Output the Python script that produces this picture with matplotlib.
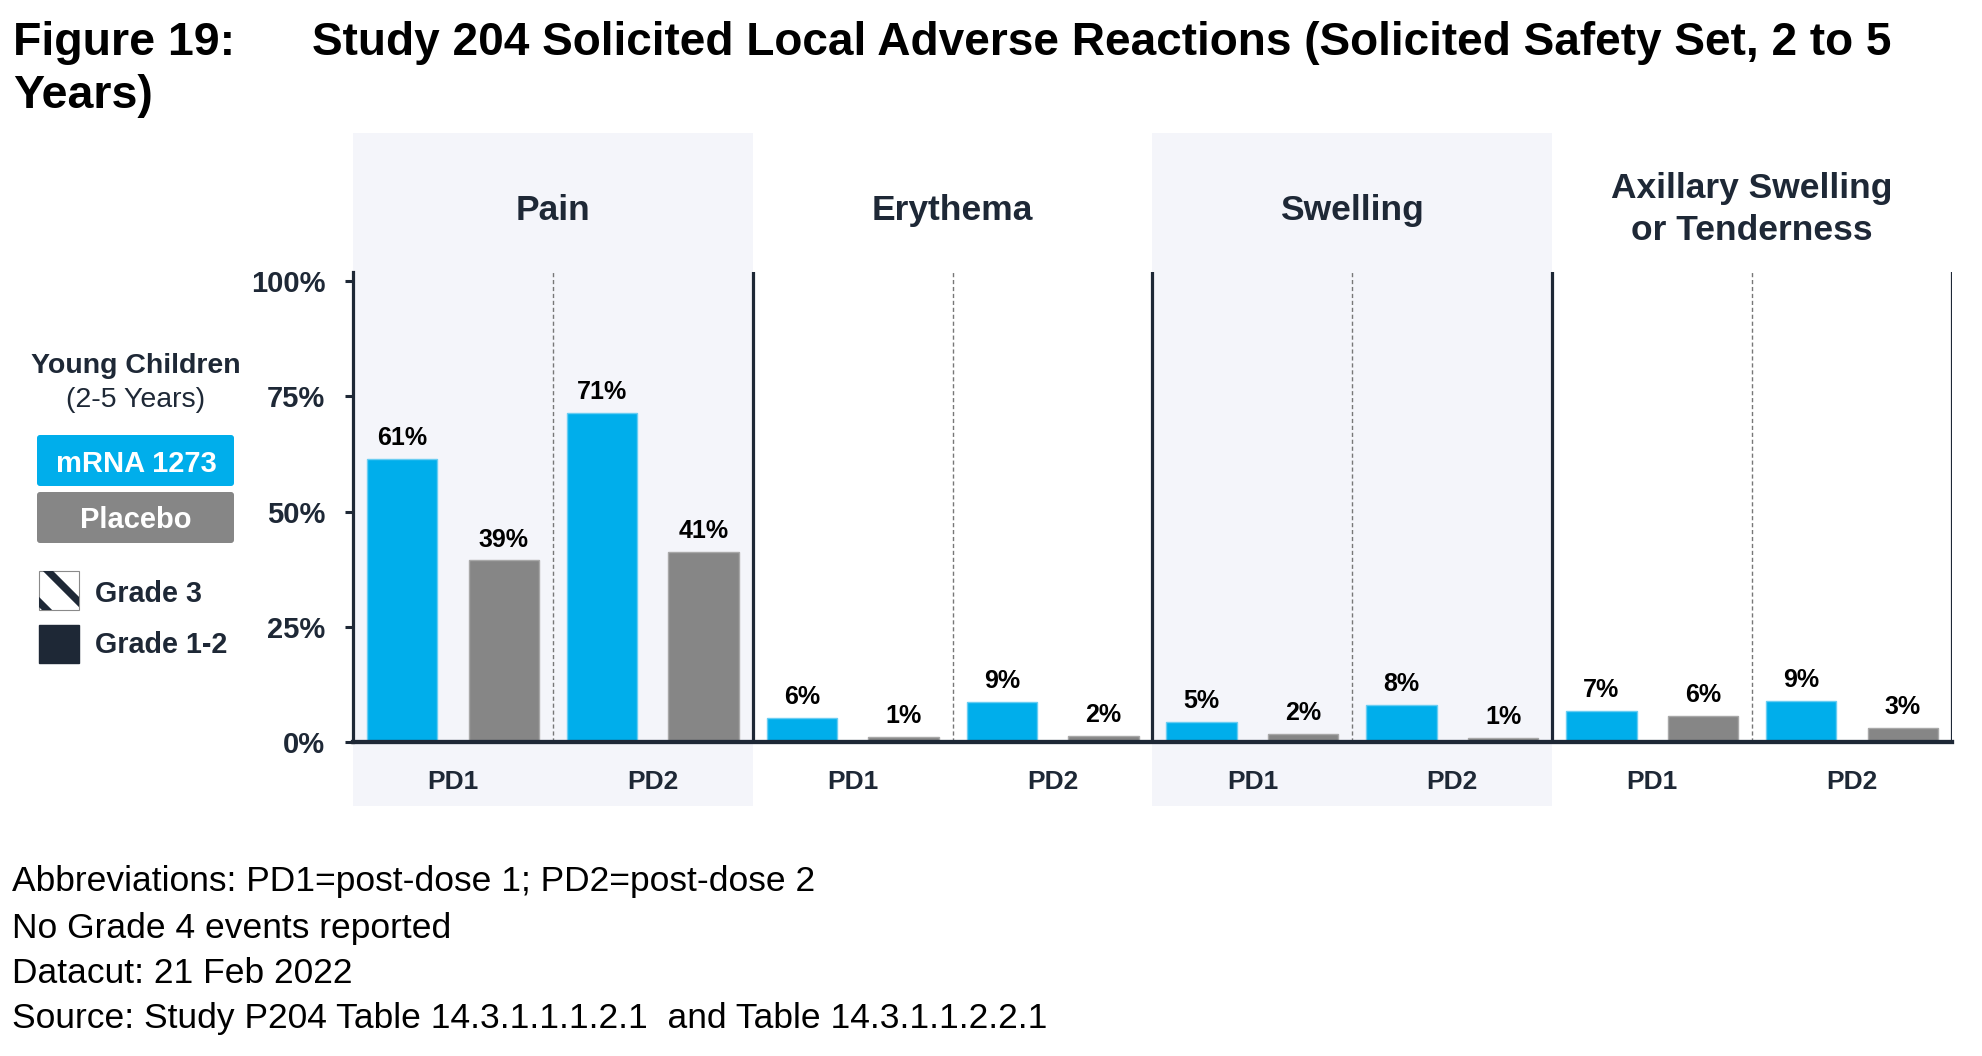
import numpy as np
import matplotlib
matplotlib.use("Agg")
import matplotlib.pyplot as plt
from matplotlib.transforms import Affine2D, blended_transform_factory
from matplotlib.patches import Rectangle, FancyBboxPatch
from matplotlib.lines import Line2D

plt.rcParams['font.family'] = ['Liberation Sans', 'DejaVu Sans']

# ---------------- data ----------------
categories = ["Pain", "Erythema", "Swelling", "Axillary Swelling\nor Tenderness"]
doses = ["PD1", "PD2"]
# bar heights (percent), order: per category PD1, PD2
mrna_pct = [61.5, 71.5, 5.3, 8.6, 4.4, 8.0, 6.7, 8.9]
placebo_pct = [39.4, 41.2, 1.1, 1.3, 1.7, 0.9, 5.6, 3.0]
# printed (rounded) labels
mrna_labels = [61, 71, 6, 9, 5, 8, 7, 9]
placebo_labels = [39, 41, 1, 2, 2, 1, 6, 3]
yticks = [0, 25, 50, 75, 100]
ytick_labels = ["0%", "25%", "50%", "75%", "100%"]
series_names = ["mRNA 1273", "Placebo"]
grade_names = ["Grade 3", "Grade 1-2"]
title_prefix = "Figure 19:"
title_line1 = "Study 204 Solicited Local Adverse Reactions (Solicited Safety Set, 2 to 5"
title_line2 = "Years)"
legend_title = ["Young Children", "(2-5 Years)"]
footnotes = [
    "Abbreviations: PD1=post-dose 1; PD2=post-dose 2",
    "No Grade 4 events reported",
    "Datacut: 21 Feb 2022",
    "Source: Study P204 Table 14.3.1.1.1.2.1  and Table 14.3.1.1.2.2.1",
]

# ---------------- style ----------------
BLUE = '#00AEEB'
BLUE_EDGE = '#6ACDF2'
GRAY = '#868686'
GRAY_EDGE = '#A8A8A8'
NAVY = '#1E2836'
PANEL_BG = '#F4F5FA'

W, H = 1983, 1056
fig = plt.figure(figsize=(W / 100, H / 100), dpi=100)
T = Affine2D().scale(1 / W, -1 / H).translate(0, 1) + fig.transFigure

ax = fig.add_axes([353 / W, 1 - 742 / H, (1952 - 353) / W, (742 - 272) / H])
ax.patch.set_alpha(0)
n_groups = len(mrna_pct)
ax.set_xlim(0, n_groups)
ax.set_ylim(0, 102)

centers = np.arange(n_groups) + 0.5
off, bw = 0.254, 0.352
ax.bar(centers - off, mrna_pct, width=bw, color=BLUE, edgecolor=BLUE_EDGE,
       linewidth=1.0, zorder=3)
ax.bar(centers + off, placebo_pct, width=bw, color=GRAY, edgecolor=GRAY_EDGE,
       linewidth=1.0, zorder=3)

for x, h, lab in zip(centers - off, mrna_pct, mrna_labels):
    ax.annotate(f"{lab}%", (x, h), xytext=(0, 10), textcoords='offset points',
                ha='center', va='baseline', fontsize=18, fontweight='bold',
                color='black')
for x, h, lab in zip(centers + off, placebo_pct, placebo_labels):
    ax.annotate(f"{lab}%", (x, h), xytext=(0, 10), textcoords='offset points',
                ha='center', va='baseline', fontsize=18, fontweight='bold',
                color='black')

# spines / ticks
for s in ['top', 'right']:
    ax.spines[s].set_visible(False)
ax.spines['left'].set_linewidth(2.3)
ax.spines['left'].set_color(NAVY)
ax.spines['bottom'].set_linewidth(3.1)
ax.spines['bottom'].set_color(NAVY)
ax.spines['bottom'].set_zorder(5)
ax.set_yticks(yticks)
ax.set_yticklabels(ytick_labels, fontsize=21, fontweight='bold', color=NAVY)
ax.tick_params(axis='y', length=6, width=2.2, color=NAVY, pad=14)
ax.set_xticks([])

n_cat = len(categories)
per_cat = len(doses)
# panel dividers and dose separators
for i in range(1, n_cat + 1):
    ax.axvline(i * per_cat, color=NAVY, lw=2.3, zorder=4)
for i in range(n_cat):
    ax.axvline(i * per_cat + 1, color='#777777', lw=1.0, ls=(0, (3, 2)), zorder=2)

bt = blended_transform_factory(ax.transData, T)
# shaded panels
for i in range(0, n_cat, 2):
    fig.add_artist(Rectangle((i * per_cat, 133), per_cat, 673, transform=bt,
                             facecolor=PANEL_BG, edgecolor='none', zorder=-1))

# panel headers
for i, cat in enumerate(categories):
    cx = i * per_cat + per_cat / 2
    lines = cat.split("\n")
    bases = [220] if len(lines) == 1 else [198, 240]
    for ln, b in zip(lines, bases):
        fig.text(cx, b, ln, transform=bt, ha='center', va='baseline',
                 fontsize=25.5, fontweight='bold', color=NAVY)

# dose labels
for j, x in enumerate(centers):
    fig.text(x, 789, doses[j % per_cat], transform=bt, ha='center', va='baseline',
             fontsize=19, fontweight='bold', color=NAVY)

# title
fig.text(13, 55, title_prefix, transform=T, ha='left', va='baseline',
         fontsize=33.5, fontweight='bold', color='black')
fig.text(312, 55, title_line1, transform=T, ha='left', va='baseline',
         fontsize=33.1, fontweight='bold', color='black')
fig.text(13, 108, title_line2, transform=T, ha='left', va='baseline',
         fontsize=33.5, fontweight='bold', color='black')

# legend
fig.text(136, 373, legend_title[0], transform=T, ha='center', va='baseline',
         fontsize=20.5, fontweight='bold', color=NAVY)
fig.text(136, 407, legend_title[1], transform=T, ha='center', va='baseline',
         fontsize=20.5, color=NAVY)
for (y0, col, name, base) in [(435, BLUE, series_names[0], 472),
                              (492, GRAY, series_names[1], 528)]:
    fig.add_artist(FancyBboxPatch((37, y0), 197, 51,
                                  boxstyle='round,pad=0,rounding_size=3',
                                  transform=T, facecolor=col, edgecolor='none'))
    fig.text(136, base, name, transform=T, ha='center', va='baseline',
             fontsize=21, fontweight='bold', color='white')

# Grade 3 icon: white square with diagonal navy stripes
g3 = Rectangle((39, 571), 40, 39, transform=T, facecolor='white',
               edgecolor='#8a8a8a', linewidth=0.8, zorder=2)
fig.add_artist(g3)
for k in (-31, 9):
    ln = Line2D([39 + k - 20, 39 + k + 70], [571 - 20, 571 + 70], transform=T,
                color=NAVY, lw=5.2, solid_capstyle='butt', zorder=3)
    ln.set_clip_path(g3)
    fig.add_artist(ln)
fig.add_artist(Rectangle((39, 625), 40, 38, transform=T, facecolor=NAVY,
                         edgecolor=NAVY, linewidth=1.0))
fig.text(95, 602, grade_names[0], transform=T, ha='left', va='baseline',
         fontsize=20.7, fontweight='bold', color=NAVY)
fig.text(95, 653, grade_names[1], transform=T, ha='left', va='baseline',
         fontsize=20.7, fontweight='bold', color=NAVY)

# footnotes
for txt, b in zip(footnotes, [891, 938, 983, 1028]):
    fig.text(12, b, txt, transform=T, ha='left', va='baseline',
             fontsize=25.5, color='black')

fig.savefig("out.png", dpi=100, facecolor='white')
